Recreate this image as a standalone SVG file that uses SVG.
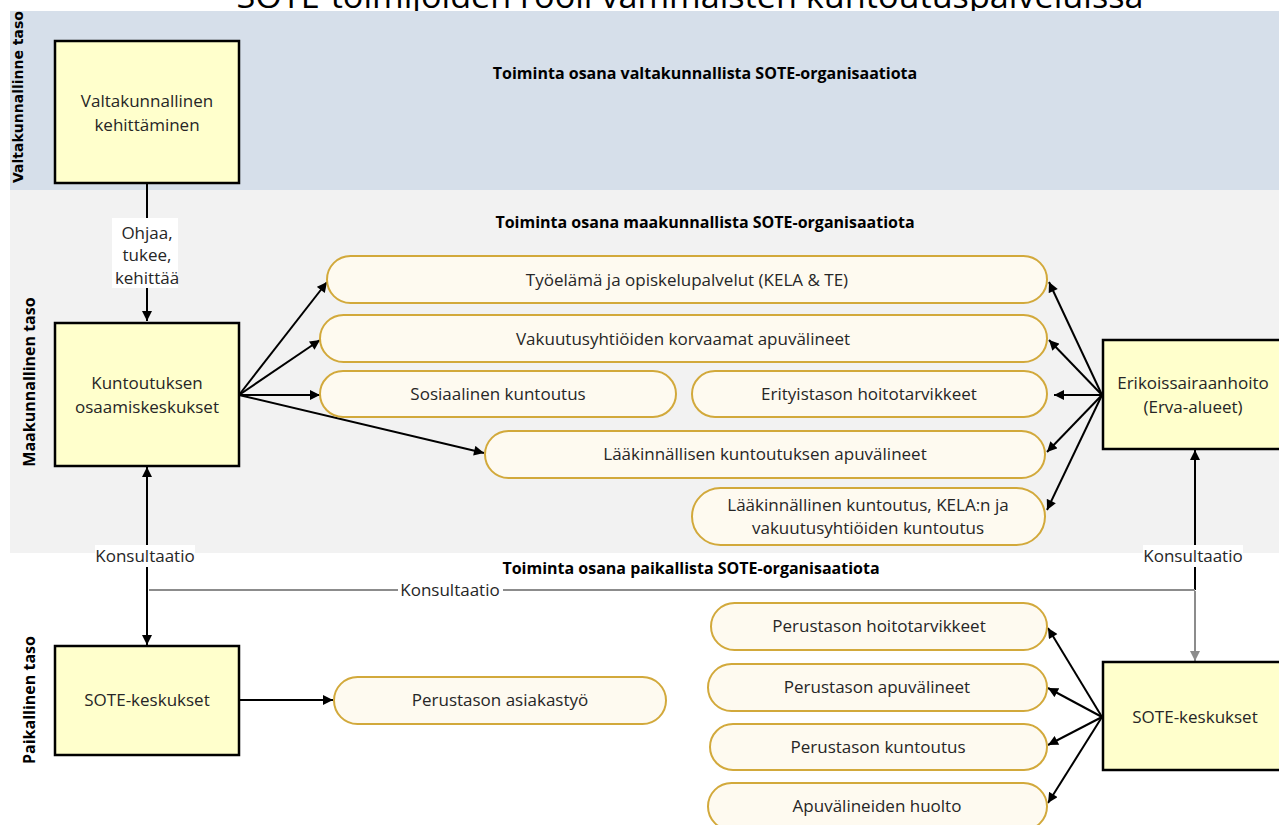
<svg xmlns="http://www.w3.org/2000/svg" width="1279" height="825" viewBox="0 0 1279 825">
<style>
.box{fill:#FFFFCC;stroke:#000;stroke-width:2.5}
.pill{fill:#FEFAF0;stroke:#D2A93B;stroke-width:2}
.t{font-family:"Open Sans","Liberation Sans",sans-serif;font-size:17px;fill:#262626;text-anchor:middle}
.h{font-family:"Open Sans","Liberation Sans",sans-serif;font-size:16px;font-weight:bold;fill:#000;text-anchor:middle}
.lv{font-family:"Open Sans","Liberation Sans",sans-serif;font-size:16px;font-weight:bold;fill:#000;text-anchor:middle}
.c{fill:none;stroke:#000;stroke-width:2}
.g{fill:none;stroke:#8C8C8C;stroke-width:2}
</style>
<defs>
<marker id="ah" viewBox="0 0 10 10" refX="10" refY="5" markerWidth="11" markerHeight="10" markerUnits="userSpaceOnUse" orient="auto"><path d="M0,0 L10,5 L0,10 z" fill="#000"/></marker>
<marker id="ahg" viewBox="0 0 10 10" refX="10" refY="5" markerWidth="11" markerHeight="10" markerUnits="userSpaceOnUse" orient="auto"><path d="M0,0 L10,5 L0,10 z" fill="#8C8C8C"/></marker>
</defs>
<rect width="1279" height="825" fill="#fff"/>
<text x="690" y="8" style="font-family:'Open Sans','Liberation Sans',sans-serif;font-size:32px;fill:#000;text-anchor:middle" textLength="907" lengthAdjust="spacingAndGlyphs">SOTE-toimijoiden rooli vammaisten kuntoutuspalveluissa</text>
<g id="bands">
<rect x="10" y="11" width="1269" height="179" fill="#D6DFEA"/>
<rect x="10" y="190" width="1269" height="363" fill="#F2F2F2"/>
</g>
<g id="level-labels">
<text transform="translate(18,97) rotate(-90)" style="font-family:'DejaVu Sans',sans-serif;font-size:14px;font-weight:bold;text-anchor:middle" dy="5">Valtakunnallinne taso</text>
<text class="lv" transform="translate(29,382) rotate(-90)" dy="6">Maakunnallinen taso</text>
<text class="lv" transform="translate(29,700) rotate(-90)" dy="6">Paikallinen taso</text>
</g>
<g id="section-headers">
<text class="h" x="705" y="79">Toiminta osana valtakunnallista SOTE-organisaatiota</text>
<text class="h" x="705" y="228">Toiminta osana maakunnallista SOTE-organisaatiota</text>
<text class="h" x="691" y="574">Toiminta osana paikallista SOTE-organisaatiota</text>
</g>
<g id="connectors">
<line class="c" x1="147" y1="184" x2="147" y2="321" marker-end="url(#ah)"/>
<line class="c" x1="239" y1="395" x2="327" y2="282" marker-end="url(#ah)"/>
<line class="c" x1="239" y1="395" x2="320" y2="340" marker-end="url(#ah)"/>
<line class="c" x1="239" y1="395" x2="320" y2="395" marker-end="url(#ah)"/>
<line class="c" x1="239" y1="395" x2="484" y2="453" marker-end="url(#ah)"/>
<line class="c" x1="1102" y1="395" x2="1049" y2="282" marker-end="url(#ah)"/>
<line class="c" x1="1102" y1="395" x2="1049" y2="340" marker-end="url(#ah)"/>
<line class="c" x1="1102" y1="395" x2="1054" y2="395" marker-end="url(#ah)"/>
<line class="c" x1="1102" y1="395" x2="1047" y2="452" marker-end="url(#ah)"/>
<line class="c" x1="1102" y1="395" x2="1047" y2="510" marker-end="url(#ah)"/>
<line class="c" x1="147" y1="640" x2="147" y2="467" marker-end="url(#ah)"/>
<line class="c" x1="147" y1="560" x2="147" y2="645" marker-end="url(#ah)"/>
<line class="c" x1="1195" y1="590" x2="1195" y2="450" marker-end="url(#ah)"/>
<path class="g" d="M149,590 H398 M503,590 H1195"/>
<line class="g" x1="1195" y1="591" x2="1195" y2="661" marker-end="url(#ahg)"/>
<line class="c" x1="239" y1="700" x2="333" y2="700" marker-end="url(#ah)"/>
<line class="c" x1="1102" y1="717" x2="1048" y2="628" marker-end="url(#ah)"/>
<line class="c" x1="1102" y1="717" x2="1048" y2="688" marker-end="url(#ah)"/>
<line class="c" x1="1102" y1="717" x2="1048" y2="745" marker-end="url(#ah)"/>
<line class="c" x1="1102" y1="717" x2="1048" y2="803" marker-end="url(#ah)"/>
<rect x="112" y="218" width="66" height="70" fill="#fff"/>
<text class="t" x="147" y="239">Ohjaa,</text>
<text class="t" x="147" y="261">tukee,</text>
<text class="t" x="147" y="284">kehittää</text>
<rect x="95" y="545" width="100" height="22" fill="#fff"/>
<text class="t" x="145" y="562">Konsultaatio</text>
<rect x="1143" y="545" width="100" height="22" fill="#fff"/>
<text class="t" x="1193" y="562">Konsultaatio</text>
<text class="t" x="450" y="596">Konsultaatio</text>
</g>
<g id="n-valtakunnallinen">
<rect class="box" x="55" y="41" width="184" height="142"/>
<text class="t" x="147" y="107">Valtakunnallinen</text>
<text class="t" x="147" y="131">kehittäminen</text>
</g>
<g id="n-kuntoutuksen">
<rect class="box" x="55" y="323" width="184" height="143"/>
<text class="t" x="147" y="389">Kuntoutuksen</text>
<text class="t" x="147" y="413">osaamiskeskukset</text>
</g>
<g id="n-erikoissairaanhoito">
<rect class="box" x="1103" y="340" width="190" height="109"/>
<text class="t" x="1193" y="389">Erikoissairaanhoito</text>
<text class="t" x="1193" y="413">(Erva-alueet)</text>
</g>
<g id="n-sote-left">
<rect class="box" x="55" y="646" width="184" height="109"/>
<text class="t" x="147" y="706">SOTE-keskukset</text>
</g>
<g id="n-sote-right">
<rect class="box" x="1103" y="662" width="190" height="108"/>
<text class="t" x="1195" y="723">SOTE-keskukset</text>
</g>
<g id="p-tyoelama">
<rect class="pill" x="327" y="256" width="720" height="47" rx="23.5"/>
<text class="t" x="687" y="286">Työelämä ja opiskelupalvelut (KELA &amp; TE)</text>
</g>
<g id="p-vakuutus">
<rect class="pill" x="320" y="315" width="727" height="47" rx="23.5"/>
<text class="t" x="683" y="345">Vakuutusyhtiöiden korvaamat apuvälineet</text>
</g>
<g id="p-sosiaalinen">
<rect class="pill" x="320" y="371" width="356" height="46" rx="23"/>
<text class="t" x="498" y="400">Sosiaalinen kuntoutus</text>
</g>
<g id="p-erityistason">
<rect class="pill" x="692" y="371" width="355" height="46" rx="23"/>
<text class="t" x="869" y="400">Erityistason hoitotarvikkeet</text>
</g>
<g id="p-laakinnallisen">
<rect class="pill" x="485" y="431" width="560" height="47" rx="23.5"/>
<text class="t" x="765" y="460">Lääkinnällisen kuntoutuksen apuvälineet</text>
</g>
<g id="p-laakinnallinen">
<rect class="pill" x="692" y="488" width="353" height="57" rx="28.5"/>
<text class="t" x="868" y="511">Lääkinnällinen kuntoutus, KELA:n ja</text>
<text class="t" x="868" y="534">vakuutusyhtiöiden kuntoutus</text>
</g>
<g id="p-asiakastyo">
<rect class="pill" x="334" y="677" width="332" height="47" rx="23.5"/>
<text class="t" x="500" y="706">Perustason asiakastyö</text>
</g>
<g id="p-hoitotarvikkeet">
<rect class="pill" x="711" y="603" width="336" height="47" rx="23.5"/>
<text class="t" x="879" y="632">Perustason hoitotarvikkeet</text>
</g>
<g id="p-apuvalineet">
<rect class="pill" x="708" y="664" width="339" height="47" rx="23.5"/>
<text class="t" x="877" y="693">Perustason apuvälineet</text>
</g>
<g id="p-kuntoutus">
<rect class="pill" x="710" y="724" width="337" height="46" rx="23"/>
<text class="t" x="878" y="753">Perustason kuntoutus</text>
</g>
<g id="p-huolto">
<rect class="pill" x="708" y="783" width="339" height="47" rx="23.5"/>
<text class="t" x="877" y="812">Apuvälineiden huolto</text>
</g>
</svg>
